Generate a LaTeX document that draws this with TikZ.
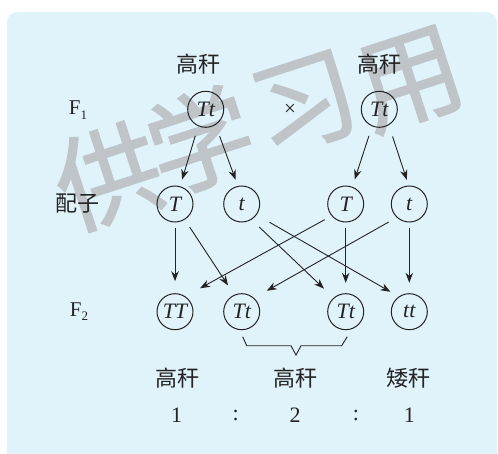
\documentclass[tikz,border=0pt]{standalone}
\usepackage{fontspec}
\setmainfont{Liberation Serif}
\newfontfamily\cjk{Noto Sans CJK SC}
\newfontfamily\cjkwm[FakeBold=1.5]{Noto Sans CJK SC}
\usetikzlibrary{arrows.meta}
\definecolor{bg}{RGB}{224,243,251}
\definecolor{wm}{RGB}{190,196,199}
\definecolor{ink}{RGB}{35,35,35}
\begin{document}
\begin{tikzpicture}[x=1pt,y=-1pt,
 gene/.style={circle,draw=ink,line width=1pt,minimum size=36pt,inner sep=0pt,
   font=\fontsize{22}{22}\selectfont\itshape,text=ink},
 lab/.style={font=\fontsize{21}{24}\selectfont,text=ink,inner sep=0pt},
 cn/.style={font=\cjk\fontsize{22}{24}\selectfont,text=ink,inner sep=0pt},
 num/.style={font=\fontsize{22}{24}\selectfont,text=ink,inner sep=0pt},
 arr/.style={-{Stealth[length=10pt,width=7.5pt]},line width=0.9pt,draw=ink},
 wmk/.style={font=\cjkwm\fontsize{105}{105}\selectfont,text=wm,rotate=18,inner sep=0pt}]
\useasboundingbox (0,0) rectangle (498,454);
\begin{scope}
\clip (0,0) rectangle (498,454);
\fill[bg,rounded corners=10pt] (7,12) rectangle (497,470);
\end{scope}
% watermark
\node[wmk] (w1) at (108,176) {供};
\node[wmk] (w2) at (200,140) {学};
\node[wmk] (w3) at (305,104) {习};
\node[wmk] (w4) at (410,80) {用};
% labels
\node[cn] (h1) at (198,64) {高秆};
\node[cn] (h2) at (379,64) {高秆};
\node[lab] (F1) at (78,110) {F\raisebox{-0.45ex}{\fontsize{13}{13}\selectfont 1}};
\node[lab] (cross) at (290,110) {×};
\node[cn] (pz) at (77.7,204) {配子};
\node[lab] (F2) at (79,311.7) {F\raisebox{-0.45ex}{\fontsize{13}{13}\selectfont 2}};
% parents
\node[gene] (p1) at (205.7,109.3) {Tt};
\node[gene] (p2) at (379.3,109.3) {Tt};
% gametes
\node[gene] (g1) at (175,204) {T};
\node[gene] (g2) at (241.7,204) {t};
\node[gene] (g3) at (345.7,204) {T};
\node[gene] (g4) at (409.3,204) {t};
% F2
\node[gene] (f1) at (175,311.7) {TT};
\node[gene] (f2) at (241.7,311.7) {Tt};
\node[gene] (f3) at (345.7,311.7) {Tt};
\node[gene] (f4) at (409.3,311.7) {tt};
% arrows parents -> gametes
\draw[arr,shorten <=10pt,shorten >=7pt] (p1.246) -- (g1.74);
\draw[arr,shorten <=12pt,shorten >=6.5pt] (p1.302) -- (g2.102);
\draw[arr,shorten <=10pt,shorten >=7.7pt] (p2.247) -- (g3.69);
\draw[arr,shorten <=12pt,shorten >=6pt] (p2.301) -- (g4.92);
% gametes -> F2
\draw[arr,shorten <=6pt,shorten >=12pt] (g1.south) -- (f1.north);
\draw[arr,shorten <=8.8pt,shorten >=11.2pt] (g1.302) -- (f2.114);
\draw[arr,shorten <=10.6pt,shorten >=13.2pt] (g2.302) -- (f3.131);
\draw[arr,shorten <=14.9pt,shorten >=9.5pt] (g2.324) -- (f4.125);
\draw[arr,shorten <=7.8pt,shorten >=16.8pt] (g3.220) -- (f1.56);
\draw[arr,shorten <=6pt,shorten >=10.4pt] (g3.south) -- (f3.north);
\draw[arr,shorten <=9.3pt,shorten >=14.6pt] (g4.227) -- (f2.48);
\draw[arr,shorten <=6pt,shorten >=10.4pt] (g4.south) -- (f4.north);
% brace
\draw[ink,line width=0.9pt] (242.7,336.7) -- (246.7,345.7) -- (291,345.7) -- (296,355)
  -- (301,345.7) -- (341.7,345.7) -- (347.3,336.7);
% bottom labels
\node[cn] (b1) at (177.3,377.7) {高秆};
\node[cn] (b2) at (295,377.7) {高秆};
\node[cn] (b3) at (408.3,377.7) {矮秆};
\node[num] (n1) at (176.7,415) {1};
\node[num] (c1) at (235.7,415) {:};
\node[num] (n2) at (295,415) {2};
\node[num] (c2) at (356,415) {:};
\node[num] (n3) at (409.3,415) {1};
\end{tikzpicture}
\end{document}
